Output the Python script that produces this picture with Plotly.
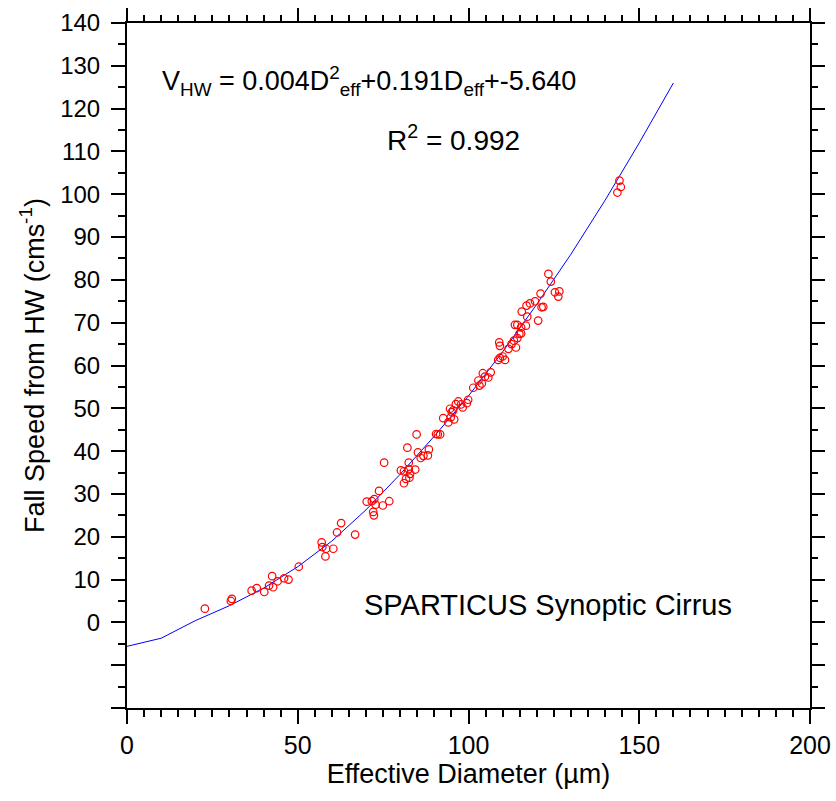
import plotly.graph_objects as go

# Measured points: effective diameter (um) and fall speed (cm/s)
diam = [22.8, 30.4, 30.7, 36.5, 38.0, 40.2, 41.6, 42.8, 42.5, 44.1, 46.0, 47.3, 50.3,
        57.0, 57.2, 58.3, 58.1, 60.4, 61.5, 62.7, 66.8, 70.2, 71.7, 72.4, 72.8, 72.1,
        72.3, 73.8, 74.9, 76.8, 75.3,
        80.2, 81.1, 82.5, 82.5, 84.4, 81.7, 82.7, 81.1, 82.9, 82.1, 84.8, 85.2, 86.0,
        86.8, 88.4, 88.1, 90.5, 91.0, 91.7,
        92.6, 94.1, 94.8, 95.8, 95.1, 95.5, 94.6, 96.3, 97.0, 97.8, 98.3, 99.5, 99.9,
        101.4, 102.9, 103.2, 104.2, 104.8, 105.8, 106.5, 103.9, 108.7, 109.2, 110.0,
        110.7, 109.0, 109.2, 111.7, 112.6, 113.3, 113.9, 114.3, 114.9, 115.4, 113.6,
        114.3, 116.8, 115.4, 117.2, 115.6, 117.0, 118.0, 119.5, 121.1, 121.4, 121.9,
        120.4, 123.4, 124.1, 125.3, 126.6, 126.3, 144.2, 144.6, 143.6]
speed = [3.2, 5.0, 5.5, 7.4, 8.0, 7.1, 8.6, 8.2, 10.8, 9.6, 10.3, 10.0, 13.0,
         18.7, 17.6, 17.2, 15.4, 17.2, 21.0, 23.2, 20.5, 28.2, 28.3, 28.8, 27.5, 25.8,
         25.0, 30.7, 27.3, 28.3, 37.3,
         35.5, 35.3, 37.3, 35.8, 35.7, 33.5, 33.8, 32.5, 34.7, 40.8, 43.9, 39.7, 38.4,
         38.9, 40.4, 39.0, 44.0, 43.9, 43.9,
         47.7, 46.7, 47.9, 47.4, 49.1, 49.5, 49.9, 51.0, 51.6, 50.9, 50.2, 51.2, 52.0,
         54.8, 56.5, 55.3, 58.2, 57.4, 57.2, 58.4, 55.8, 61.3, 61.8, 62.1,
         61.3, 65.4, 64.6, 63.9, 65.0, 65.8, 64.2, 66.4, 67.4, 67.5, 69.5,
         69.5, 69.3, 68.9, 71.4, 72.6, 74.0, 74.5, 75.0, 76.8, 73.6, 73.7,
         70.5, 81.4, 79.6, 77.1, 77.3, 76.1, 103.2, 101.7, 100.4]

# Fitted curve as drawn
fit_d = [0, 10, 20, 30, 40, 50, 60, 70, 80, 90, 100, 110, 120, 130, 140, 150, 160]
fit_v = [-5.6, -3.7, 0.4, 3.9, 8.0, 13.0, 19.0, 26.3, 34.6, 43.5, 52.9, 63.2, 74.3,
         86.0, 98.6, 112.0, 126.0]

x_ticks = [0, 50, 100, 150, 200]
y_ticks = list(range(-20, 141, 10))
y_labels = [str(v) if v >= 0 else "" for v in y_ticks]

FONT = "Liberation Sans, Arial, sans-serif"

fig = go.Figure()
fig.add_trace(go.Scatter(x=fit_d, y=fit_v, mode="lines",
                         line=dict(color="#0000ff", width=1), showlegend=False))
fig.add_trace(go.Scatter(x=diam, y=speed, mode="markers",
                         marker=dict(symbol="circle-open", color="#ff0000", size=7.5,
                                     line=dict(width=1.2, color="#ff0000")),
                         showlegend=False))
# invisible trace for the mirrored axes
fig.add_trace(go.Scatter(x=[0], y=[0], xaxis="x2", yaxis="y2", mode="markers",
                         marker=dict(opacity=0), showlegend=False, hoverinfo="skip"))

axis_common = dict(showgrid=False, zeroline=False, showline=True, linecolor="black",
                   linewidth=2, ticks="outside", tickcolor="black", tickwidth=2,
                   automargin=False)
minor_common = dict(tickwidth=2, tickcolor="black", ticks="outside")

fig.update_layout(
    width=836, height=801,
    margin=dict(l=127, r=26, t=23, b=93),
    paper_bgcolor="white", plot_bgcolor="white",
    font=dict(family=FONT, color="black", size=24),
    xaxis=dict(range=[0, 200], tickvals=x_ticks, ticklen=14,
               minor=dict(dtick=5, ticklen=7, **minor_common),
               title=dict(text="Effective Diameter (\u00b5m)", font=dict(size=27), standoff=6),
               tickfont=dict(size=25), **axis_common),
    yaxis=dict(range=[-20, 140], tickvals=y_ticks, ticktext=y_labels, ticklen=14,
               ticklabelstandoff=6,
               minor=dict(dtick=5, ticklen=7, **minor_common),
               title=dict(text="Fall Speed from HW (cms<sup>-1</sup>)", font=dict(size=27), standoff=8),
               tickfont=dict(size=24), **axis_common),
    xaxis2=dict(range=[0, 200], overlaying="x", side="top", tickvals=x_ticks,
                ticklen=13, showticklabels=False,
                minor=dict(dtick=5, ticklen=6, **minor_common),
                **axis_common),
    yaxis2=dict(range=[-20, 140], overlaying="y", side="right", anchor="x2", tickvals=y_ticks,
                ticklen=13, showticklabels=False,
                minor=dict(dtick=5, ticklen=6, **minor_common),
                **axis_common),
)

fig.add_annotation(x=0.048, y=0.915, xref="paper", yref="paper", xanchor="left", yanchor="middle",
                   showarrow=False, font=dict(size=27),
                   text="V<sub>HW</sub> = 0.004D<sup>2</sup><sub>eff</sub>+0.191D<sub>eff</sub>+-5.640")
fig.add_annotation(x=0.378, y=0.832, xref="paper", yref="paper", xanchor="left", yanchor="middle",
                   showarrow=False, font=dict(size=28), text="R<sup>2</sup> = 0.992")
fig.add_annotation(x=0.344, y=0.150, xref="paper", yref="paper", xanchor="left", yanchor="middle",
                   showarrow=False, font=dict(size=29), text="SPARTICUS Synoptic Cirrus")

fig.write_html("out.html")
